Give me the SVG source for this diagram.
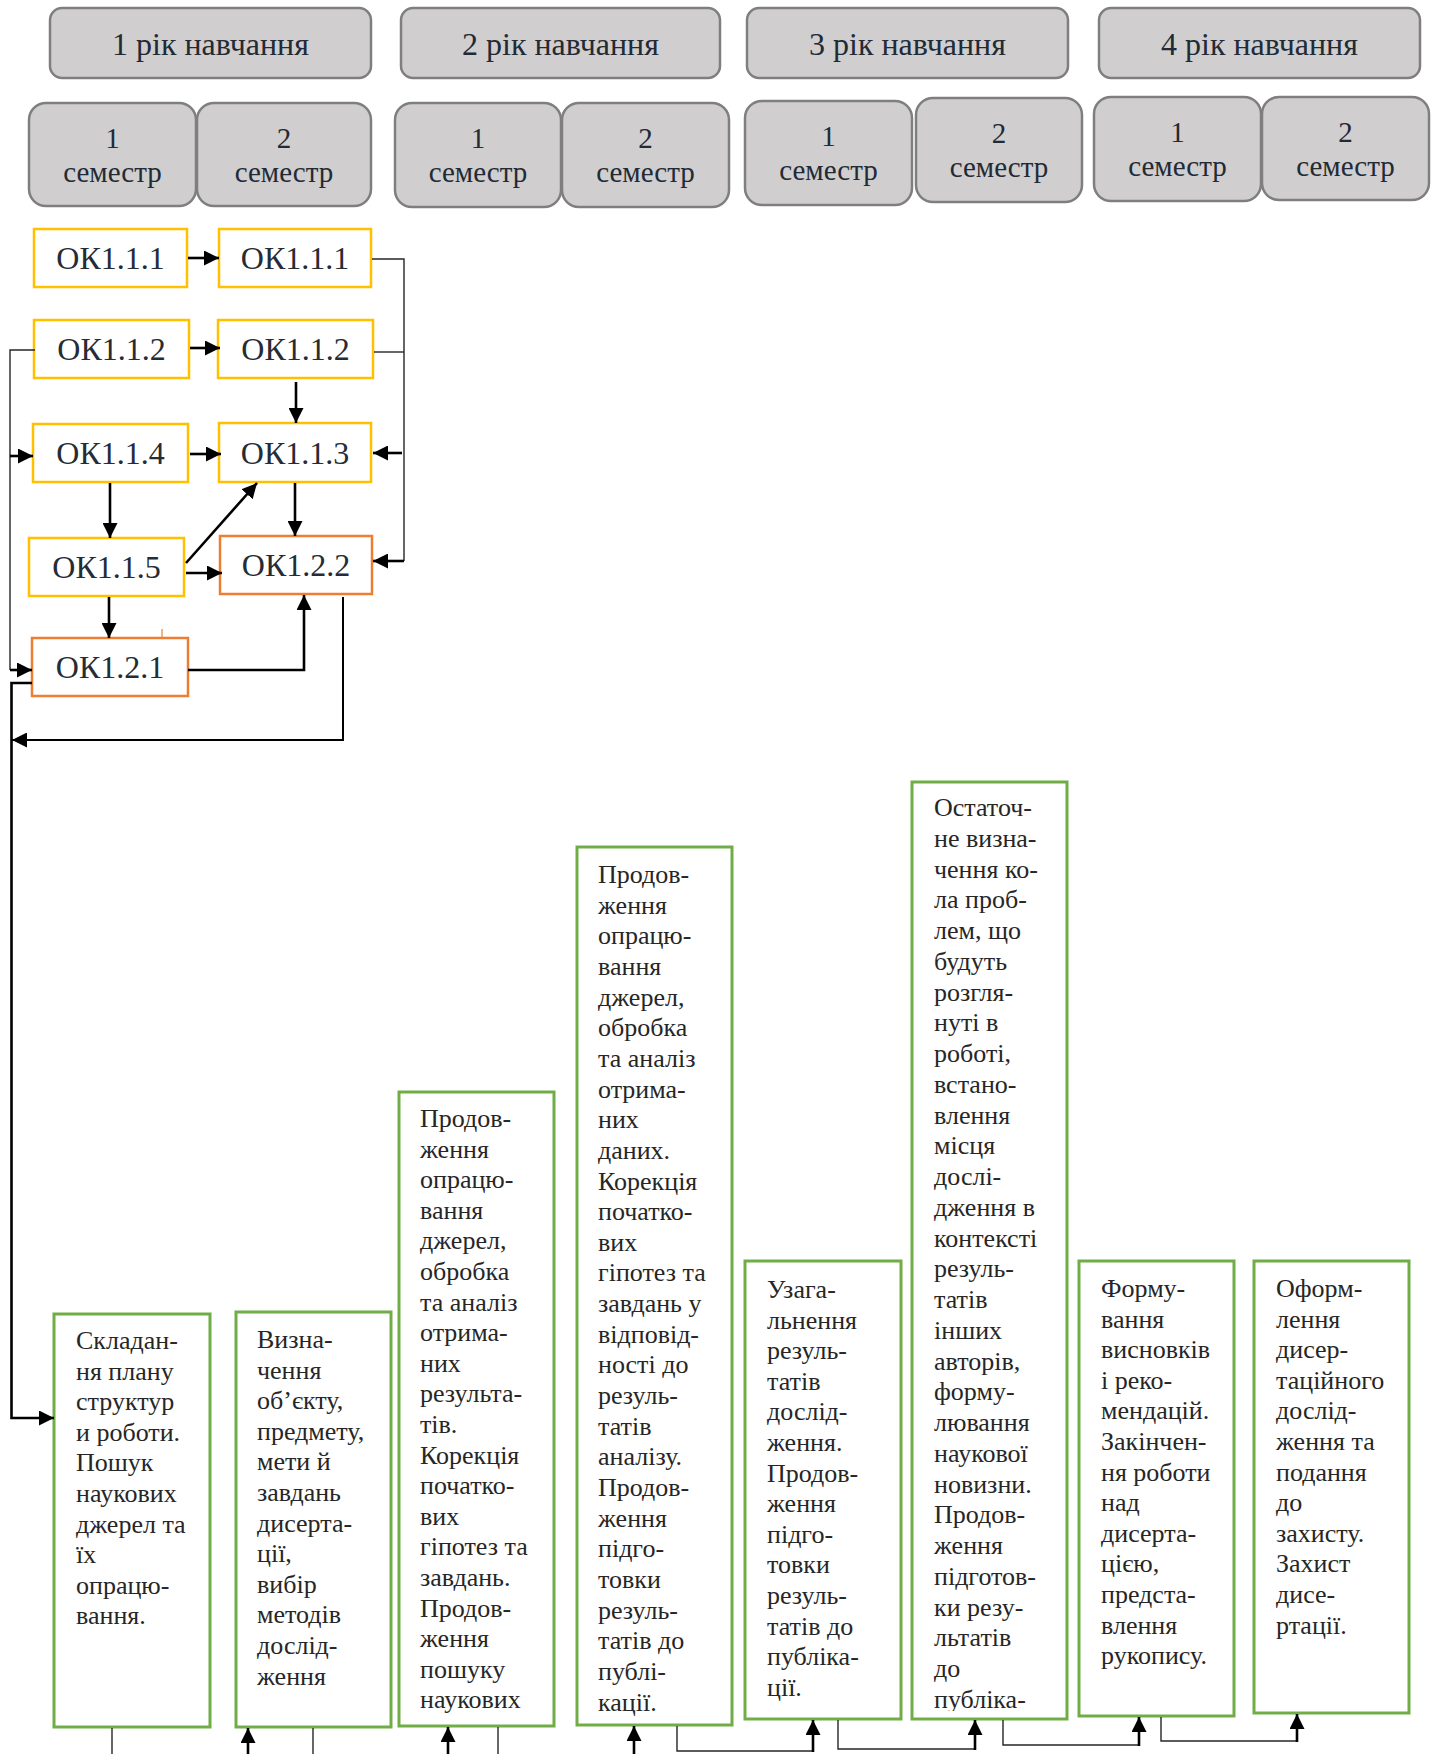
<svg xmlns="http://www.w3.org/2000/svg" width="1435" height="1754" viewBox="0 0 1435 1754">
<style>
.hdr{fill:#d0cece;stroke:#7f7f7f;stroke-width:2.5}
.ht{font-family:"Liberation Serif","Times New Roman",serif;fill:#222a35;text-anchor:middle}
.yr{font-size:32px}
.sm{font-size:29px}
.ok{fill:#fff;stroke:#ffc000;stroke-width:2.5}
.or{fill:#fff;stroke:#ed7d31;stroke-width:2.5}
.okt{font-family:"Liberation Serif","Times New Roman",serif;font-size:32px;fill:#252c35;text-anchor:middle}
.gb{fill:#fff;stroke:#70ad47;stroke-width:3}
.gt{font-family:"Liberation Serif","Times New Roman",serif;font-size:26px;fill:#262626}
.thin{fill:none;stroke:#262626;stroke-width:1.4}
.thk{fill:none;stroke:#000;stroke-width:2.6}
</style>
<defs>
<marker id="ah" markerUnits="userSpaceOnUse" markerWidth="15" markerHeight="15" refX="15" refY="7.5" orient="auto">
<path d="M0,0 L15,7.5 L0,15 z" fill="#000"/>
</marker>
<clipPath id="c6"><rect x="912" y="782" width="155" height="929"/></clipPath>
</defs>

<g id="year1"><rect class="hdr" x="50" y="8" width="321" height="70" rx="12"/><text class="ht yr" x="210.5" y="55">1 рік навчання</text></g>
<g id="year2"><rect class="hdr" x="401" y="8" width="319" height="70" rx="12"/><text class="ht yr" x="560.5" y="55">2 рік навчання</text></g>
<g id="year3"><rect class="hdr" x="747" y="8" width="321" height="70" rx="12"/><text class="ht yr" x="907.5" y="55">3 рік навчання</text></g>
<g id="year4"><rect class="hdr" x="1099" y="8" width="321" height="70" rx="12"/><text class="ht yr" x="1259.5" y="55">4 рік навчання</text></g>

<g id="y1s1"><rect class="hdr" x="29" y="103" width="167" height="103" rx="17"/><text class="ht sm" x="112.5" y="148">1</text><text class="ht sm" x="112.5" y="182">семестр</text></g>
<g id="y1s2"><rect class="hdr" x="197" y="103" width="174" height="103" rx="17"/><text class="ht sm" x="284" y="148">2</text><text class="ht sm" x="284" y="182">семестр</text></g>
<g id="y2s1"><rect class="hdr" x="395" y="103" width="166" height="104" rx="17"/><text class="ht sm" x="478" y="148">1</text><text class="ht sm" x="478" y="182">семестр</text></g>
<g id="y2s2"><rect class="hdr" x="562" y="103" width="167" height="104" rx="17"/><text class="ht sm" x="645.5" y="148">2</text><text class="ht sm" x="645.5" y="182">семестр</text></g>
<g id="y3s1"><rect class="hdr" x="745" y="101" width="167" height="104" rx="17"/><text class="ht sm" x="828.5" y="146">1</text><text class="ht sm" x="828.5" y="180">семестр</text></g>
<g id="y3s2"><rect class="hdr" x="916" y="98" width="166" height="104" rx="17"/><text class="ht sm" x="999" y="143">2</text><text class="ht sm" x="999" y="177">семестр</text></g>
<g id="y4s1"><rect class="hdr" x="1094" y="97" width="167" height="104" rx="17"/><text class="ht sm" x="1177.5" y="142">1</text><text class="ht sm" x="1177.5" y="176">семестр</text></g>
<g id="y4s2"><rect class="hdr" x="1262" y="97" width="167" height="103" rx="17"/><text class="ht sm" x="1345.5" y="142">2</text><text class="ht sm" x="1345.5" y="176">семестр</text></g>

<g id="ok111a"><rect class="ok" x="34" y="229" width="153" height="58"/><text class="okt" x="110.5" y="269">ОК1.1.1</text></g>
<g id="ok111b"><rect class="ok" x="219" y="229" width="152" height="58"/><text class="okt" x="295" y="269">ОК1.1.1</text></g>
<g id="ok112a"><rect class="ok" x="34" y="320" width="155" height="58"/><text class="okt" x="111.5" y="360">ОК1.1.2</text></g>
<g id="ok112b"><rect class="ok" x="218" y="320" width="155" height="58"/><text class="okt" x="295.5" y="360">ОК1.1.2</text></g>
<g id="ok114"><rect class="ok" x="33" y="424" width="155" height="58"/><text class="okt" x="110.5" y="464">ОК1.1.4</text></g>
<g id="ok113"><rect class="ok" x="219" y="423" width="152" height="59"/><text class="okt" x="295" y="464">ОК1.1.3</text></g>
<g id="ok115"><rect class="ok" x="29" y="538" width="155" height="58"/><text class="okt" x="106.5" y="578">ОК1.1.5</text></g>
<g id="ok122"><rect class="or" x="220" y="536" width="152" height="58"/><text class="okt" x="296" y="576">ОК1.2.2</text></g>
<g id="ok121"><rect class="or" x="32" y="638" width="156" height="58"/><text class="okt" x="110" y="678">ОК1.2.1</text></g>

<g id="box1"><rect class="gb" x="54" y="1314" width="156" height="413"/>
<text class="gt" x="76" y="1349"><tspan x="76">Складан-</tspan><tspan x="76" dy="30.6">ня плану</tspan><tspan x="76" dy="30.6">структур</tspan><tspan x="76" dy="30.6">и роботи.</tspan><tspan x="76" dy="30.6">Пошук</tspan><tspan x="76" dy="30.6">наукових</tspan><tspan x="76" dy="30.6">джерел та</tspan><tspan x="76" dy="30.6">їх</tspan><tspan x="76" dy="30.6">опрацю-</tspan><tspan x="76" dy="30.6">вання.</tspan></text></g>

<g id="box2"><rect class="gb" x="236" y="1312" width="155" height="415"/>
<text class="gt" x="257" y="1348"><tspan x="257">Визна-</tspan><tspan x="257" dy="30.6">чення</tspan><tspan x="257" dy="30.6">об’єкту,</tspan><tspan x="257" dy="30.6">предмету,</tspan><tspan x="257" dy="30.6">мети й</tspan><tspan x="257" dy="30.6">завдань</tspan><tspan x="257" dy="30.6">дисерта-</tspan><tspan x="257" dy="30.6">ції,</tspan><tspan x="257" dy="30.6">вибір</tspan><tspan x="257" dy="30.6">методів</tspan><tspan x="257" dy="30.6">дослід-</tspan><tspan x="257" dy="30.6">ження</tspan></text></g>

<g id="box3"><rect class="gb" x="399" y="1092" width="155" height="634"/>
<text class="gt" x="420" y="1127"><tspan x="420">Продов-</tspan><tspan x="420" dy="30.6">ження</tspan><tspan x="420" dy="30.6">опрацю-</tspan><tspan x="420" dy="30.6">вання</tspan><tspan x="420" dy="30.6">джерел,</tspan><tspan x="420" dy="30.6">обробка</tspan><tspan x="420" dy="30.6">та аналіз</tspan><tspan x="420" dy="30.6">отрима-</tspan><tspan x="420" dy="30.6">них</tspan><tspan x="420" dy="30.6">результа-</tspan><tspan x="420" dy="30.6">тів.</tspan><tspan x="420" dy="30.6">Корекція</tspan><tspan x="420" dy="30.6">початко-</tspan><tspan x="420" dy="30.6">вих</tspan><tspan x="420" dy="30.6">гіпотез та</tspan><tspan x="420" dy="30.6">завдань.</tspan><tspan x="420" dy="30.6">Продов-</tspan><tspan x="420" dy="30.6">ження</tspan><tspan x="420" dy="30.6">пошуку</tspan><tspan x="420" dy="30.6">наукових</tspan></text></g>

<g id="box4"><rect class="gb" x="577" y="847" width="155" height="878"/>
<text class="gt" x="598" y="883"><tspan x="598">Продов-</tspan><tspan x="598" dy="30.65">ження</tspan><tspan x="598" dy="30.65">опрацю-</tspan><tspan x="598" dy="30.65">вання</tspan><tspan x="598" dy="30.65">джерел,</tspan><tspan x="598" dy="30.65">обробка</tspan><tspan x="598" dy="30.65">та аналіз</tspan><tspan x="598" dy="30.65">отрима-</tspan><tspan x="598" dy="30.65">них</tspan><tspan x="598" dy="30.65">даних.</tspan><tspan x="598" dy="30.65">Корекція</tspan><tspan x="598" dy="30.65">початко-</tspan><tspan x="598" dy="30.65">вих</tspan><tspan x="598" dy="30.65">гіпотез та</tspan><tspan x="598" dy="30.65">завдань у</tspan><tspan x="598" dy="30.65">відповід-</tspan><tspan x="598" dy="30.65">ності до</tspan><tspan x="598" dy="30.65">резуль-</tspan><tspan x="598" dy="30.65">татів</tspan><tspan x="598" dy="30.65">аналізу.</tspan><tspan x="598" dy="30.65">Продов-</tspan><tspan x="598" dy="30.65">ження</tspan><tspan x="598" dy="30.65">підго-</tspan><tspan x="598" dy="30.65">товки</tspan><tspan x="598" dy="30.65">резуль-</tspan><tspan x="598" dy="30.65">татів до</tspan><tspan x="598" dy="30.65">публі-</tspan><tspan x="598" dy="30.65">кації.</tspan></text></g>

<g id="box5"><rect class="gb" x="745" y="1261" width="156" height="458"/>
<text class="gt" x="767" y="1298"><tspan x="767">Узага-</tspan><tspan x="767" dy="30.6">льнення</tspan><tspan x="767" dy="30.6">резуль-</tspan><tspan x="767" dy="30.6">татів</tspan><tspan x="767" dy="30.6">дослід-</tspan><tspan x="767" dy="30.6">ження.</tspan><tspan x="767" dy="30.6">Продов-</tspan><tspan x="767" dy="30.6">ження</tspan><tspan x="767" dy="30.6">підго-</tspan><tspan x="767" dy="30.6">товки</tspan><tspan x="767" dy="30.6">резуль-</tspan><tspan x="767" dy="30.6">татів до</tspan><tspan x="767" dy="30.6">публіка-</tspan><tspan x="767" dy="30.6">ції.</tspan></text></g>

<g id="box6"><rect class="gb" x="912" y="782" width="155" height="937"/>
<text class="gt" x="934" y="816" clip-path="url(#c6)"><tspan x="934">Остаточ-</tspan><tspan x="934" dy="30.75">не визна-</tspan><tspan x="934" dy="30.75">чення ко-</tspan><tspan x="934" dy="30.75">ла проб-</tspan><tspan x="934" dy="30.75">лем, що</tspan><tspan x="934" dy="30.75">будуть</tspan><tspan x="934" dy="30.75">розгля-</tspan><tspan x="934" dy="30.75">нуті в</tspan><tspan x="934" dy="30.75">роботі,</tspan><tspan x="934" dy="30.75">встано-</tspan><tspan x="934" dy="30.75">влення</tspan><tspan x="934" dy="30.75">місця</tspan><tspan x="934" dy="30.75">дослі-</tspan><tspan x="934" dy="30.75">дження в</tspan><tspan x="934" dy="30.75">контексті</tspan><tspan x="934" dy="30.75">резуль-</tspan><tspan x="934" dy="30.75">татів</tspan><tspan x="934" dy="30.75">інших</tspan><tspan x="934" dy="30.75">авторів,</tspan><tspan x="934" dy="30.75">форму-</tspan><tspan x="934" dy="30.75">лювання</tspan><tspan x="934" dy="30.75">наукової</tspan><tspan x="934" dy="30.75">новизни.</tspan><tspan x="934" dy="30.75">Продов-</tspan><tspan x="934" dy="30.75">ження</tspan><tspan x="934" dy="30.75">підготов-</tspan><tspan x="934" dy="30.75">ки резу-</tspan><tspan x="934" dy="30.75">льтатів</tspan><tspan x="934" dy="30.75">до</tspan><tspan x="934" dy="30.75">публіка-</tspan></text></g>

<g id="box7"><rect class="gb" x="1079" y="1261" width="155" height="455"/>
<text class="gt" x="1101" y="1297"><tspan x="1101">Форму-</tspan><tspan x="1101" dy="30.6">вання</tspan><tspan x="1101" dy="30.6">висновків</tspan><tspan x="1101" dy="30.6">і реко-</tspan><tspan x="1101" dy="30.6">мендацій.</tspan><tspan x="1101" dy="30.6">Закінчен-</tspan><tspan x="1101" dy="30.6">ня роботи</tspan><tspan x="1101" dy="30.6">над</tspan><tspan x="1101" dy="30.6">дисерта-</tspan><tspan x="1101" dy="30.6">цією,</tspan><tspan x="1101" dy="30.6">предста-</tspan><tspan x="1101" dy="30.6">влення</tspan><tspan x="1101" dy="30.6">рукопису.</tspan></text></g>

<g id="box8"><rect class="gb" x="1254" y="1261" width="155" height="452"/>
<text class="gt" x="1276" y="1297"><tspan x="1276">Оформ-</tspan><tspan x="1276" dy="30.6">лення</tspan><tspan x="1276" dy="30.6">дисер-</tspan><tspan x="1276" dy="30.6">таційного</tspan><tspan x="1276" dy="30.6">дослід-</tspan><tspan x="1276" dy="30.6">ження та</tspan><tspan x="1276" dy="30.6">подання</tspan><tspan x="1276" dy="30.6">до</tspan><tspan x="1276" dy="30.6">захисту.</tspan><tspan x="1276" dy="30.6">Захист</tspan><tspan x="1276" dy="30.6">дисе-</tspan><tspan x="1276" dy="30.6">ртації.</tspan></text></g>

<g id="connectors">
<path class="thk" d="M188,258 H219" marker-end="url(#ah)"/>
<path class="thk" d="M190,348 H220" marker-end="url(#ah)"/>
<path class="thk" d="M296,382 V423" marker-end="url(#ah)"/>
<path class="thk" d="M190,454 H221" marker-end="url(#ah)"/>
<path class="thin" d="M372,259 H404 V561"/>
<path class="thin" d="M374,352 H404"/>
<path class="thk" d="M402,453 H373" marker-end="url(#ah)"/>
<path class="thk" d="M404,561 H373" marker-end="url(#ah)"/>
<path class="thin" d="M35,350 H10 V670"/>
<path class="thk" d="M10,456 H33" marker-end="url(#ah)"/>
<path class="thk" d="M10,670 H32" marker-end="url(#ah)"/>
<path class="thk" d="M110,483 V538" marker-end="url(#ah)"/>
<path class="thk" d="M295,483 V536" marker-end="url(#ah)"/>
<path class="thk" d="M186,563 L257,483" marker-end="url(#ah)"/>
<path class="thk" d="M186,573 H222" marker-end="url(#ah)"/>
<path class="thk" d="M109,597 V638" marker-end="url(#ah)"/>
<path class="thk" d="M188,670 H304 V595" marker-end="url(#ah)"/>
<path d="M343,597 V740 H12" fill="none" stroke="#000" stroke-width="2" marker-end="url(#ah)"/>
<path class="thk" d="M32,683 H11.5 V1418 H54" marker-end="url(#ah)"/>
<path d="M162,629 V637" stroke="#ed7d31" stroke-width="1.2"/>

<path class="thin" d="M112,1728 V1754"/>
<path class="thk" d="M248,1754 V1728" marker-end="url(#ah)"/>
<path class="thin" d="M313,1728 V1754"/>
<path class="thk" d="M448,1754 V1727" marker-end="url(#ah)"/>
<path class="thin" d="M498,1727 V1754"/>
<path class="thk" d="M634,1754 V1726" marker-end="url(#ah)"/>
<path class="thin" d="M677,1726 V1751 H813"/>
<path class="thk" d="M813,1752 V1720" marker-end="url(#ah)"/>
<path class="thin" d="M838,1720 V1749 H975"/>
<path class="thk" d="M975,1750 V1720" marker-end="url(#ah)"/>
<path class="thin" d="M1003,1720 V1745 H1139"/>
<path class="thk" d="M1139,1746 V1717" marker-end="url(#ah)"/>
<path class="thin" d="M1161,1717 V1741 H1297"/>
<path class="thk" d="M1297,1742 V1714" marker-end="url(#ah)"/>
</g>
</svg>
